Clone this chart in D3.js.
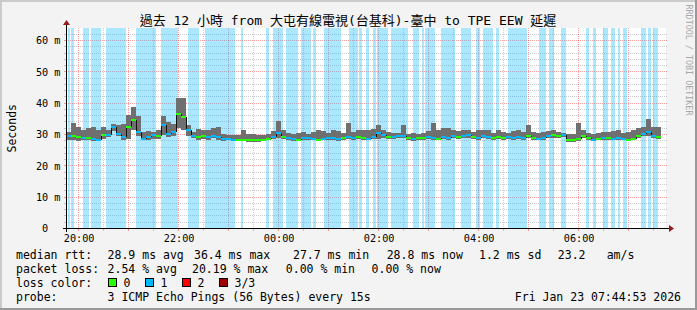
<!DOCTYPE html>
<html>
<head>
<meta charset="utf-8">
<script src="https://cdn.jsdelivr.net/npm/d3@7"></script>
<style>
    body { margin: 0; background: #f3f3f3; }
    text { font-family: "DejaVu Sans Mono", "Noto Sans CJK TC", monospace; fill: #000; }
</style>
</head>
<body>
<svg id="chart" width="697" height="310"></svg>
<script>
// Define global variables
const WIDTH = 697;
const HEIGHT = 310;
const PLOT_LEFT = 66;
const PLOT_RIGHT = 666;
const PLOT_TOP = 28;
const PLOT_BOTTOM = 228.5;

const TITLE = "過去 12 小時 from 大屯有線電視(台基科)-臺中 to TPE EEW 延遲";
const START = new Date(2026, 0, 22, 19, 44, 53);
const END = new Date(2026, 0, 23, 7, 44, 53);

// data is one value every 6 minutes from 19:45
const STEP_MIN = 6;
const DATA_START = "19:45";

const median = [29.4,29.4,29.1,28.9,28.9,28.6,28.4,29.7,29.9,32.3, 30.2,29.1,32.3,34.5,30.7,28.6,29.1,29.7,29.4,32.9,
    30.2,30.7,36.4,35.5,31.3,29.4,29.1,29.4,29.1,29.4, 29.1,28.6,28.6,28.4,28.3,28.3,28.1,28.1,28.1,28.3,
    28.6,29.1,30.4,29.1,28.8,28.6,28.3,28.8,28.8,28.6, 28.3,28.6,28.8,28.8,28.6,28.8,29.1,28.8,29.1,28.8,
    28.6,29.1,30.4,29.7,29.1,29.1,29.4,29.4,28.8,28.6, 28.8,28.8,29.1,28.8,28.6,29.1,28.8,29.4,29.1,29.4,
    29.7,29.1,28.8,29.4,29.1,28.8,29.1,28.8,29.1,28.8, 29.1,28.8,29.4,28.8,28.6,28.8,29.4,29.7,29.4,29.7,
    28.1,28.1,28.6,29.4,28.8,28.3,28.6,28.8,28.8,28.6, 28.8,28.6,28.3,28.6,29.4,30.2,30.7,29.4,29.1];

// smoke: highest and lowest ping of each step
const smokeHigh = [30.7,33.8,32.3,31.3,32.0,32.3,31.5,32.3,31.3,33.4, 33.0,33.4,36.1,38.7,36.0,30.7,31.0,30.7,31.3,36.0,
    34.0,33.4,41.6,41.6,33.0,30.7,31.8,31.6,31.3,32.0, 32.3,30.2,29.9,29.9,29.7,31.3,30.2,30.2,29.7,29.7,
    30.2,31.0,34.2,31.3,30.4,30.2,30.4,30.7,30.2,30.7, 31.3,31.0,30.4,31.3,31.0,30.4,33.8,30.7,31.3,31.6,
    31.6,31.8,32.9,31.3,30.7,30.4,30.4,32.9,30.2,30.4, 30.2,30.4,31.0,33.8,31.6,32.0,32.0,31.6,31.0,31.6,
    31.3,30.7,31.6,31.3,31.6,30.4,31.3,30.7,30.4,31.0, 31.3,30.7,32.9,30.7,30.4,30.7,31.0,31.3,30.7,30.4,
    30.2,30.2,33.7,31.3,30.4,30.2,30.4,30.7,30.7,31.0, 31.3,30.4,30.7,31.3,32.0,32.3,35.0,32.3,32.3];

const smokeLow = [28.1,28.3,28.0,28.3,28.3,28.0,27.8,28.6,29.2,31.0, 29.6,28.3,28.6,31.5,29.5,28.1,28.3,28.6,28.6,29.7,
    29.1,29.6,32.0,31.5,29.6,28.8,28.3,28.6,28.3,28.8, 28.3,28.0,28.1,27.9,27.8,27.9,27.7,27.7,27.7,27.8,
    28.1,28.5,28.8,28.6,28.3,28.0,27.8,28.3,28.3,28.1, 27.9,28.1,28.3,28.3,28.0,28.3,28.5,28.3,28.5,28.3,
    28.1,28.5,28.6,28.8,28.5,28.6,28.8,28.8,28.3,28.0, 28.3,28.3,28.6,28.3,28.1,28.5,28.3,28.8,28.6,28.8,
    29.0,28.6,28.3,28.8,28.6,28.3,28.5,28.3,28.6,28.3, 28.5,28.3,28.8,28.3,28.1,28.3,28.8,29.0,28.8,29.1,
    27.7,27.7,28.0,28.8,28.3,27.8,28.1,28.3,28.3,28.1, 28.3,28.1,27.8,28.1,28.8,29.4,29.4,28.8,28.6];

// periods with 1 of 3 pings lost
const lossSpans = [
    ["19:47","19:50"],["19:51","19:54"],["20:05","20:12"],["20:15","20:27"],["20:33","20:57"],
    ["21:09","21:33"],["21:39","21:59"],["22:11","22:24"],["22:32","23:08"],["23:15","23:17"],
    ["23:45","23:48"],["23:53","00:05"],["00:09","00:23"],["00:27","00:39"],["00:41","00:45"],
    ["00:54","01:15"],["01:24","01:35"],["01:37","01:40"],["01:45","01:49"],["01:53","01:57"],
    ["01:58","02:11"],["02:15","02:35"],["02:41","02:48"],["02:52","02:54"],["02:56","03:08"],
    ["03:15","03:32"],["03:39","03:51"],["03:57","04:02"],["04:05","04:17"],["04:21","04:24"],
    ["04:35","04:58"],["05:12","05:21"],["05:24","05:30"],["05:39","05:45"],["06:09","06:12"],
    ["06:17","06:21"],["06:29","06:35"],["06:39","06:44"],["06:47","06:50"],["06:53","06:58"],
    ["07:15","07:21"],["07:23","07:27"],["07:29","07:35"]
];

const yTicks = [0, 10, 20, 30, 40, 50, 60];
const lossLabels = ["0", "1", "2", "3/3"];
const lossColors = ["#26ff00", "#00b8ff", "#ff0000", "#a00000"];

const legendRtt = [["median rtt:", 16], ["28.9 ms avg", 107.6], ["36.4 ms max", 194], ["27.7 ms min", 293],
    ["28.8 ms now", 386.7], ["1.2 ms sd", 479], ["23.2", 557.8], ["am/s", 606.7]];
const legendLoss = [["packet loss:", 16], ["2.54 % avg", 107.6], ["20.19 % max", 192],
    ["0.00 % min", 285.8], ["0.00 % now", 371.6]];
const probeText = "3 ICMP Echo Pings (56 Bytes) every 15s";
const stampText = "Fri Jan 23 07:44:53 2026";

const xScale = d3.scaleTime([START, END], [PLOT_LEFT, PLOT_RIGHT]);
const yScale = d3.scaleLinear([0, 64], [PLOT_BOTTOM, PLOT_TOP]);

const svg = d3.select("#chart");

// canvas + 3d border
svg.append("rect").attr("width", WIDTH).attr("height", HEIGHT).attr("fill", "#f3f3f3");
svg.append("path").attr("d", `M1,${HEIGHT}V1H${WIDTH}`).attr("stroke", "#cbcbcb").attr("stroke-width", 2).attr("fill", "none");
svg.append("path").attr("d", `M0,${HEIGHT - 1}H${WIDTH - 1}V0`).attr("stroke", "#999").attr("stroke-width", 2).attr("fill", "none");

svg.append("rect")
    .attr("x", PLOT_LEFT).attr("y", PLOT_TOP)
    .attr("width", PLOT_RIGHT - PLOT_LEFT).attr("height", PLOT_BOTTOM - PLOT_TOP)
    .attr("fill", "#fff");

// grid
const grid = svg.append("g").attr("shape-rendering", "crispEdges");
const hLines = d3.range(2, 64, 2);
hLines.forEach(v => {
    const y = Math.floor(yScale(v)) + 0.5;
    const col = v % 10 === 0 ? "rgba(255,0,0,0.38)" : "rgba(128,128,128,0.4)";
    grid.append("line").attr("x1", PLOT_LEFT).attr("x2", PLOT_RIGHT + 2).attr("y1", y).attr("y2", y)
        .attr("stroke", col).attr("stroke-dasharray", "1,1");
    grid.append("line").attr("x1", PLOT_LEFT - 2).attr("x2", PLOT_LEFT).attr("y1", y).attr("y2", y).attr("stroke", col);
});
d3.timeMinute.every(30).range(START, END).forEach(t => {
    const x = Math.floor(xScale(t)) + 0.5;
    const col = t.getMinutes() === 0 ? "rgba(255,0,0,0.38)" : "rgba(128,128,128,0.4)";
    grid.append("line").attr("x1", x).attr("x2", x).attr("y1", PLOT_TOP).attr("y2", PLOT_BOTTOM)
        .attr("stroke", col).attr("stroke-dasharray", "1,1");
    grid.append("line").attr("x1", x).attr("x2", x).attr("y1", PLOT_BOTTOM).attr("y2", PLOT_BOTTOM + 2.5).attr("stroke", col);
});

// loss background
svg.append("g").attr("shape-rendering", "crispEdges")
    .selectAll("rect")
    .data(lossSpans)
    .enter()
    .append("rect")
    .attr("x", d => xScale(clock(d[0])))
    .attr("width", d => xScale(clock(d[1])) - xScale(clock(d[0])))
    .attr("y", PLOT_TOP)
    .attr("height", PLOT_BOTTOM - PLOT_TOP)
    .attr("fill", lossColors[1])
    .attr("fill-opacity", 0.33);

// steps
const t0 = clock(DATA_START);
const steps = median.map((m, i) => {
    const a = d3.timeMinute.offset(t0, i * STEP_MIN);
    const b = d3.timeMinute.offset(t0, (i + 1) * STEP_MIN);
    const mid = d3.timeMinute.offset(a, STEP_MIN / 2);
    const lost = lossSpans.some(s => mid >= clock(s[0]) && mid < clock(s[1])) ? 1 : 0;
    return {a, b, med: m, hi: smokeHigh[i], lo: smokeLow[i], lost};
});

svg.append("g").attr("shape-rendering", "crispEdges")
    .selectAll("rect")
    .data(steps)
    .enter()
    .append("rect")
    .attr("x", d => xScale(d.a))
    .attr("width", d => xScale(d.b) - xScale(d.a))
    .attr("y", d => yScale(d.hi))
    .attr("height", d => yScale(d.lo) - yScale(d.hi))
    .attr("fill", "#6f6f6f");

const medG = svg.append("g").attr("shape-rendering", "crispEdges");
steps.forEach((d, i) => {
    if (i > 0) {
        medG.append("line")
            .attr("x1", xScale(d.a)).attr("x2", xScale(d.a))
            .attr("y1", yScale(steps[i - 1].med)).attr("y2", yScale(d.med))
            .attr("stroke", "#111").attr("stroke-width", 1);
    }
});
medG.selectAll(".med")
    .data(steps)
    .enter()
    .append("line")
    .attr("x1", d => xScale(d.a)).attr("x2", d => xScale(d.b))
    .attr("y1", d => yScale(d.med)).attr("y2", d => yScale(d.med))
    .attr("stroke", d => lossColors[d.lost])
    .attr("stroke-width", 2);

// axes
const xAxis = svg.append("g")
    .attr("transform", `translate(0,${PLOT_BOTTOM})`)
    .call(d3.axisBottom(xScale).tickValues(d3.timeHour.every(2).range(START, END))
        .tickFormat(d3.timeFormat("%H:%M")).tickSize(0).tickPadding(6));
xAxis.select(".domain").remove();
xAxis.selectAll("text").attr("font-size", 10.2).attr("font-family", "DejaVu Sans Mono");

const yAxis = svg.append("g")
    .attr("transform", `translate(${PLOT_LEFT + 0.5},0)`)
    .call(d3.axisLeft(yScale).tickValues(yTicks)
        .tickFormat(d => d === 0 ? "0" : d + " m").tickSize(0).tickPadding(6));
yAxis.select(".domain").remove();
yAxis.selectAll("text").attr("font-size", 10.2).attr("font-family", "DejaVu Sans Mono")
    .attr("dx", d => d === 0 ? -12.3 : 0);

const axisCol = "#000";
svg.append("line").attr("x1", PLOT_LEFT - 3).attr("x2", PLOT_RIGHT + 4)
    .attr("y1", PLOT_BOTTOM).attr("y2", PLOT_BOTTOM).attr("stroke", axisCol).attr("shape-rendering", "crispEdges");
svg.append("line").attr("x1", PLOT_LEFT + 0.5).attr("x2", PLOT_LEFT + 0.5)
    .attr("y1", PLOT_BOTTOM + 3).attr("y2", PLOT_TOP - 4).attr("stroke", axisCol).attr("shape-rendering", "crispEdges");
svg.append("path").attr("d", `M${PLOT_RIGHT + 3},${PLOT_BOTTOM - 3.5}L${PLOT_RIGHT + 8},${PLOT_BOTTOM}L${PLOT_RIGHT + 3},${PLOT_BOTTOM + 3.5}Z`)
    .attr("fill", "#931c1c");
svg.append("path").attr("d", `M${PLOT_LEFT - 3},${PLOT_TOP - 3}L${PLOT_LEFT + 0.5},${PLOT_TOP - 8}L${PLOT_LEFT + 4},${PLOT_TOP - 3}Z`)
    .attr("fill", "#931c1c");

// texts
svg.append("text").attr("x", 348).attr("y", 25).attr("text-anchor", "middle")
    .attr("font-size", 13).text(TITLE);

svg.append("text").attr("transform", `translate(15.5,${(PLOT_TOP + PLOT_BOTTOM) / 2}) rotate(-90)`)
    .attr("text-anchor", "middle").attr("font-size", 11.5).text("Seconds");

svg.append("text").attr("transform", "translate(685.5,60) rotate(90)")
    .attr("text-anchor", "middle").attr("font-size", 8.4).style("fill", "#a8a8a8")
    .text("RRDTOOL / TOBI OETIKER");

const LEG_FONT = 11.5;
legendRtt.forEach(([t, x]) => legendText(t, x, 258.5));
legendLoss.forEach(([t, x]) => legendText(t, x, 272.5));
legendText("loss color:", 16, 286.5);
lossLabels.forEach((l, i) => {
    const bx = 108.5 + i * 37;
    svg.append("rect").attr("x", bx).attr("y", 278.5).attr("width", 8).attr("height", 8)
        .attr("fill", lossColors[i]).attr("stroke", "#000").attr("shape-rendering", "crispEdges");
    legendText(l, bx + 15, 286.5);
});
legendText("probe:", 16, 300.5);
legendText(probeText, 107.6, 300.5);
svg.append("text").attr("x", 681).attr("y", 300.5).attr("text-anchor", "end")
    .attr("font-size", LEG_FONT).text(stampText);

// utility functions
function clock(s) {
    const [h, m] = s.split(":").map(Number);
    return new Date(2026, 0, h >= 19 ? 22 : 23, h, m);
}

function legendText(t, x, y) {
    svg.append("text").attr("x", x).attr("y", y).attr("font-size", LEG_FONT)
        .attr("xml:space", "preserve").text(t);
}
</script>
</body>
</html>
